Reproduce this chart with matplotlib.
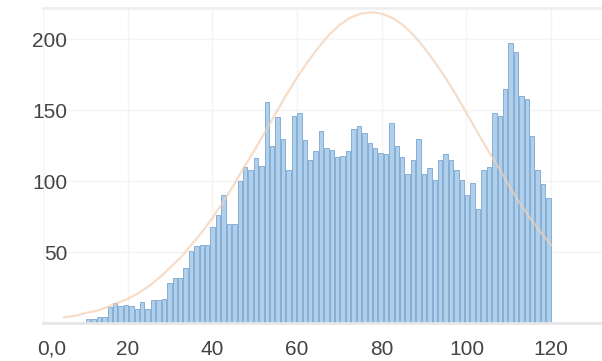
import matplotlib.pyplot as plt
import matplotlib.transforms as mtransforms
import numpy as np

plt.rcParams['font.family'] = ['Liberation Sans', 'DejaVu Sans']

# histogram bins: 86 bins from 10 to 120
bin_start = 10
bin_stop = 120
n_bins = 86
counts = [3, 3, 4, 4, 11, 14, 12, 13, 12, 10, 15, 10, 16, 16, 17, 28, 32, 32, 39, 51,
          54, 55, 55, 68, 76, 90, 70, 70, 100, 110, 108, 116, 111, 156, 125, 145, 130, 108, 146, 148,
          129, 115, 121, 135, 123, 122, 117, 118, 121, 137, 139, 134, 127, 123, 120, 119, 141, 125, 117, 105,
          115, 130, 105, 109, 101, 115, 119, 115, 108, 101, 90, 99, 80, 108, 110, 148, 146, 165, 197, 191,
          160, 158, 132, 108, 98, 88]

# fitted curve
curve_x = [5, 7.5, 10, 12.5, 15, 17.5, 20, 22.5, 25, 27.5, 30, 32.5, 35, 37.5, 40, 42.5, 45, 47.5,
           50, 52.5, 55, 57.5, 60, 62.5, 65, 67.5, 70, 72.5, 75, 77.5, 80, 82.5, 85, 87.5, 90, 92.5,
           95, 97.5, 100, 102.5, 105, 107.5, 110, 112.5, 115, 117.5, 120]
curve_y = [4, 5, 7, 8.5, 11, 14, 17, 21, 26, 32, 39, 46, 55, 64, 74, 85, 97, 110,
           122, 135, 148, 161, 173, 184, 194, 203, 210, 215, 218, 219, 218, 215, 210, 203, 194, 184,
           173, 161, 148, 135, 122, 110, 97, 85, 74, 64, 55]

xticks = [0, 20, 40, 60, 80, 100, 120]
xtick_labels = ['0,0', '20', '40', '60', '80', '100', '120']
yticks = [50, 100, 150, 200]

fig = plt.figure(figsize=(6.02, 3.61), dpi=100)
ax = fig.add_axes([43/602, 38/361, 559/602, 315/361])

edges = np.linspace(bin_start, bin_stop, n_bins + 1)
width = edges[1] - edges[0]
centers = edges[:-1] + width / 2
ax.bar(centers, counts, width=width * 0.82, color='#afcfeb', edgecolor='#86aed6', linewidth=0.7, zorder=2)
ax.plot(curve_x, curve_y, color='#f2cfb2', alpha=0.7, linewidth=1.6, zorder=3)

ax.set_xlim(0, 132)
ax.set_ylim(0, 222)
ax.set_xticks(xticks)
ax.set_xticklabels(xtick_labels)
ax.set_yticks(yticks)
ax.tick_params(axis='both', length=0, labelsize=15, labelcolor='#444444')
ax.tick_params(axis='x', pad=12)
ax.tick_params(axis='y', pad=-17.5)

ax.grid(True, color='#f4f4f4', linewidth=1, zorder=0)
ax.set_axisbelow(True)
for s in ['left', 'right']:
    ax.spines[s].set_visible(False)
ax.spines['top'].set_color('#efefef')
ax.spines['top'].set_linewidth(2)
ax.spines['bottom'].set_color('#e6e6e6')
ax.spines['bottom'].set_linewidth(2)

# first x label sits a bit to the right of its tick
lab = ax.get_xticklabels()[0]
lab.set_transform(lab.get_transform() + mtransforms.ScaledTranslation(9/100, 0, fig.dpi_scale_trans))

fig.savefig('out.png', dpi=100)
